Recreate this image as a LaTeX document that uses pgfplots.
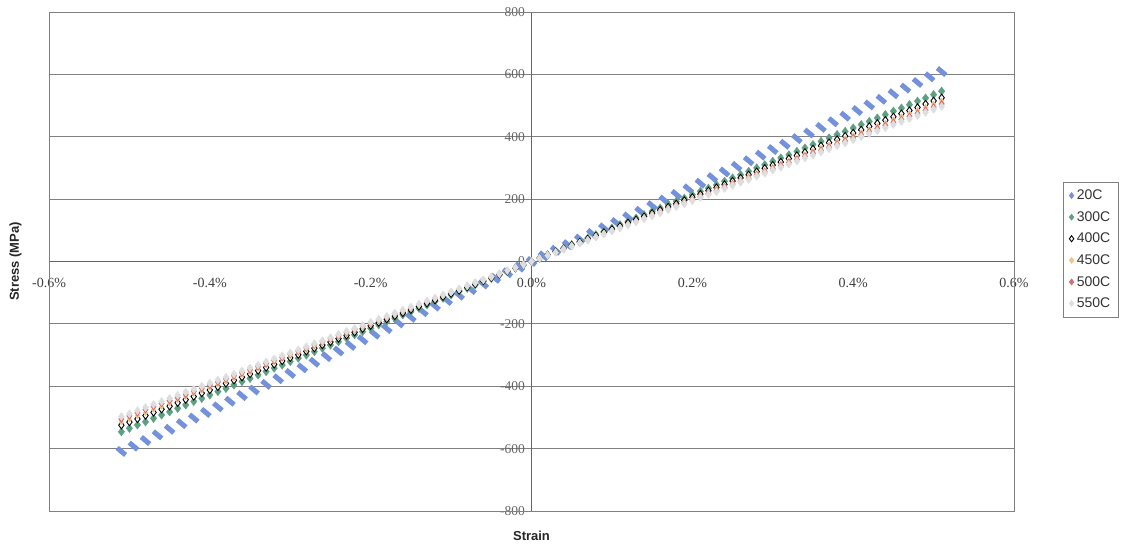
\documentclass[border=0pt]{standalone}
\usepackage{pgfplots}
\pgfplotsset{compat=1.18}
\usepackage{pgfplotstable}
\usepackage{fontspec}
\setmainfont{Liberation Sans}
\newfontfamily\tnr{Liberation Serif}

\definecolor{c20}{RGB}{115,145,220}
\definecolor{c300}{RGB}{95,160,130}
\definecolor{c450}{RGB}{240,195,140}
\definecolor{c500}{RGB}{215,110,110}
\definecolor{c550}{RGB}{222,222,222}
\definecolor{gridc}{RGB}{128,128,128}

% slanted dash used for the room-temperature series
\pgfdeclareplotmark{slantdash}{%
  \pgfpathmoveto{\pgfqpoint{-2.60pt}{5.46pt}}%
  \pgfpathlineto{\pgfqpoint{5.82pt}{-1.62pt}}%
  \pgfpathlineto{\pgfqpoint{2.60pt}{-5.46pt}}%
  \pgfpathlineto{\pgfqpoint{-5.82pt}{1.62pt}}%
  \pgfpathclose
  \pgfusepathqfill}

% 20C: strain (%) and stress (MPa)
\pgfplotstableread{
strain s20
-0.510 -609
-0.495 -592
-0.480 -574
-0.465 -556
-0.450 -538
-0.435 -520
-0.420 -502
-0.405 -484
-0.390 -466
-0.375 -448
-0.360 -430
-0.345 -412
-0.330 -394
-0.315 -376
-0.300 -359
-0.285 -341
-0.270 -323
-0.255 -305
-0.240 -287
-0.225 -269
-0.210 -251
-0.195 -233
-0.180 -215
-0.165 -197
-0.150 -179
-0.135 -161
-0.120 -143
-0.105 -125
-0.090 -108
-0.075 -90
-0.060 -72
-0.045 -54
-0.030 -36
-0.015 -18
0.000 0
0.015 18
0.030 36
0.045 54
0.060 72
0.075 90
0.090 108
0.105 125
0.120 143
0.135 161
0.150 179
0.165 197
0.180 215
0.195 233
0.210 251
0.225 269
0.240 287
0.255 305
0.270 323
0.285 341
0.300 359
0.315 376
0.330 394
0.345 412
0.360 430
0.375 448
0.390 466
0.405 484
0.420 502
0.435 520
0.450 538
0.465 556
0.480 574
0.495 592
0.510 609
}\roomdata

% 300C to 550C: strain (%) and stress (MPa)
\pgfplotstableread{
strain s300 s400 s450 s500 s550
-0.51 -546 -525 -515 -505 -497
-0.50 -535 -515 -505 -495 -488
-0.49 -524 -505 -495 -485 -478
-0.48 -514 -494 -485 -475 -468
-0.47 -503 -484 -475 -465 -458
-0.46 -492 -474 -465 -455 -449
-0.45 -482 -464 -455 -446 -439
-0.44 -471 -453 -444 -436 -429
-0.43 -460 -443 -434 -426 -419
-0.42 -449 -433 -424 -416 -410
-0.41 -439 -422 -414 -406 -400
-0.40 -428 -412 -404 -396 -390
-0.39 -417 -402 -394 -386 -380
-0.38 -407 -391 -384 -376 -371
-0.37 -396 -381 -374 -366 -361
-0.36 -385 -371 -364 -356 -351
-0.35 -375 -361 -354 -347 -341
-0.34 -364 -350 -343 -337 -332
-0.33 -353 -340 -333 -327 -322
-0.32 -342 -330 -323 -317 -312
-0.31 -332 -319 -313 -307 -302
-0.30 -321 -309 -303 -297 -293
-0.29 -310 -299 -293 -287 -283
-0.28 -300 -288 -283 -277 -273
-0.27 -289 -278 -273 -267 -263
-0.26 -278 -268 -263 -257 -254
-0.25 -268 -258 -253 -248 -244
-0.24 -257 -247 -242 -238 -234
-0.23 -246 -237 -232 -228 -224
-0.22 -235 -227 -222 -218 -215
-0.21 -225 -216 -212 -208 -205
-0.20 -214 -206 -202 -198 -195
-0.19 -203 -196 -192 -188 -185
-0.18 -193 -185 -182 -178 -176
-0.17 -182 -175 -172 -168 -166
-0.16 -171 -165 -162 -158 -156
-0.15 -161 -155 -152 -149 -146
-0.14 -150 -144 -141 -139 -137
-0.13 -139 -134 -131 -129 -127
-0.12 -128 -124 -121 -119 -117
-0.11 -118 -113 -111 -109 -107
-0.10 -107 -103 -101 -99 -98
-0.09 -96 -93 -91 -89 -88
-0.08 -86 -82 -81 -79 -78
-0.07 -75 -72 -71 -69 -68
-0.06 -64 -62 -61 -59 -59
-0.05 -54 -52 -51 -50 -49
-0.04 -43 -41 -40 -40 -39
-0.03 -32 -31 -30 -30 -29
-0.02 -21 -21 -20 -20 -20
-0.01 -11 -10 -10 -10 -10
0.00 0 0 0 0 0
0.01 11 10 10 10 10
0.02 21 21 20 20 20
0.03 32 31 30 30 29
0.04 43 41 40 40 39
0.05 54 52 51 50 49
0.06 64 62 61 59 59
0.07 75 72 71 69 68
0.08 86 82 81 79 78
0.09 96 93 91 89 88
0.10 107 103 101 99 98
0.11 118 113 111 109 107
0.12 128 124 121 119 117
0.13 139 134 131 129 127
0.14 150 144 141 139 137
0.15 161 155 152 149 146
0.16 171 165 162 158 156
0.17 182 175 172 168 166
0.18 193 185 182 178 176
0.19 203 196 192 188 185
0.20 214 206 202 198 195
0.21 225 216 212 208 205
0.22 235 227 222 218 215
0.23 246 237 232 228 224
0.24 257 247 242 238 234
0.25 268 258 253 248 244
0.26 278 268 263 257 254
0.27 289 278 273 267 263
0.28 300 288 283 277 273
0.29 310 299 293 287 283
0.30 321 309 303 297 293
0.31 332 319 313 307 302
0.32 342 330 323 317 312
0.33 353 340 333 327 322
0.34 364 350 343 337 332
0.35 375 361 354 347 341
0.36 385 371 364 356 351
0.37 396 381 374 366 361
0.38 407 391 384 376 371
0.39 417 402 394 386 380
0.40 428 412 404 396 390
0.41 439 422 414 406 400
0.42 449 433 424 416 410
0.43 460 443 434 426 419
0.44 471 453 444 436 429
0.45 482 464 455 446 439
0.46 492 474 465 455 449
0.47 503 484 475 465 458
0.48 514 494 485 475 468
0.49 524 505 495 485 478
0.50 535 515 505 495 488
0.51 546 525 515 505 497
}\data

\begin{document}
\begin{tikzpicture}
\useasboundingbox (0,0) rectangle (1123pt,548pt);
\begin{axis}[
  at={(49pt,37pt)}, anchor=south west,
  scale only axis, width=965pt, height=499pt,
  xmin=-0.6, xmax=0.6, ymin=-800, ymax=800,
  axis lines=middle,
  axis line style={-, draw=black!60, line width=0.9pt},
  xtick={-0.6,-0.4,-0.2,0,0.2,0.4,0.6},
  ytick={-800,-600,-400,-200,0,200,400,600,800},
  hide obscured x ticks=false, hide obscured y ticks=false,
  ymajorgrids, grid style={gridc, line width=0.8pt},
  major tick length=0pt,
  /pgf/number format/assume math mode=true,
  xticklabel={\pgfmathprintnumber[fixed,fixed zerofill,precision=1]{\tick}\%},
  yticklabel={\pgfmathprintnumber[fixed,precision=0]{\tick}},
  xticklabel style={font=\tnr\fontsize{14}{16}\selectfont, text=black!75, yshift=-13pt},
  yticklabel style={font=\tnr\fontsize{13.5}{15}\selectfont, text=black!60, xshift=-3pt},
  xlabel={Strain},
  ylabel={Stress (MPa)},
  xlabel style={at={(axis description cs:0.5,0)}, anchor=north, yshift=-17pt,
    font=\bfseries\fontsize{13}{15}\selectfont, text=black!85},
  ylabel style={at={(axis description cs:0,0.5)}, rotate=90, anchor=south, yshift=24pt,
    font=\bfseries\fontsize{13}{15}\selectfont, text=black!85},
  legend style={at={(1.0508,0.660)}, anchor=north west, draw=gridc, line width=0.6pt,
    font=\fontsize{14}{16}\selectfont, text=black!80, row sep=6.3pt,
    inner xsep=6pt, inner ysep=6pt,
    /tikz/every odd column/.append style={column sep=1pt}},
  legend cell align=left,
  clip=false,
]
\draw[gridc, line width=0.8pt] (rel axis cs:0,0) rectangle (rel axis cs:1,1);
\addplot[only marks, mark=slantdash, c20,
  legend image post style={mark=diamond*, mark size=3pt, mark options={draw=c20, fill=c20}}]
  table[x=strain, y=s20] {\roomdata};
\addlegendentry{20C}
\addplot[only marks, mark=diamond*, mark size=4.2pt,
  mark options={draw=c300, fill=c300},
  legend image post style={mark size=3pt}]
  table[x=strain, y=s300] {\data};
\addlegendentry{300C}
\addplot[only marks, mark=diamond*, mark size=3.6pt,
  mark options={draw=black, fill=white, line width=0.9pt},
  legend image post style={mark size=3pt}]
  table[x=strain, y=s400] {\data};
\addlegendentry{400C}
\addplot[only marks, mark=diamond*, mark size=2.8pt,
  mark options={draw=c450, fill=c450},
  legend image post style={mark size=3pt}]
  table[x=strain, y=s450] {\data};
\addlegendentry{450C}
\addplot[only marks, mark=diamond*, mark size=3.6pt,
  mark options={draw=c500, fill=c500},
  legend image post style={mark size=3pt}]
  table[x=strain, y=s500] {\data};
\addlegendentry{500C}
\addplot[only marks, mark=diamond*, mark size=4pt,
  mark options={draw=c550, fill=c550},
  legend image post style={mark size=3pt}]
  table[x=strain, y=s550] {\data};
\addlegendentry{550C}
\end{axis}
\end{tikzpicture}
\end{document}
